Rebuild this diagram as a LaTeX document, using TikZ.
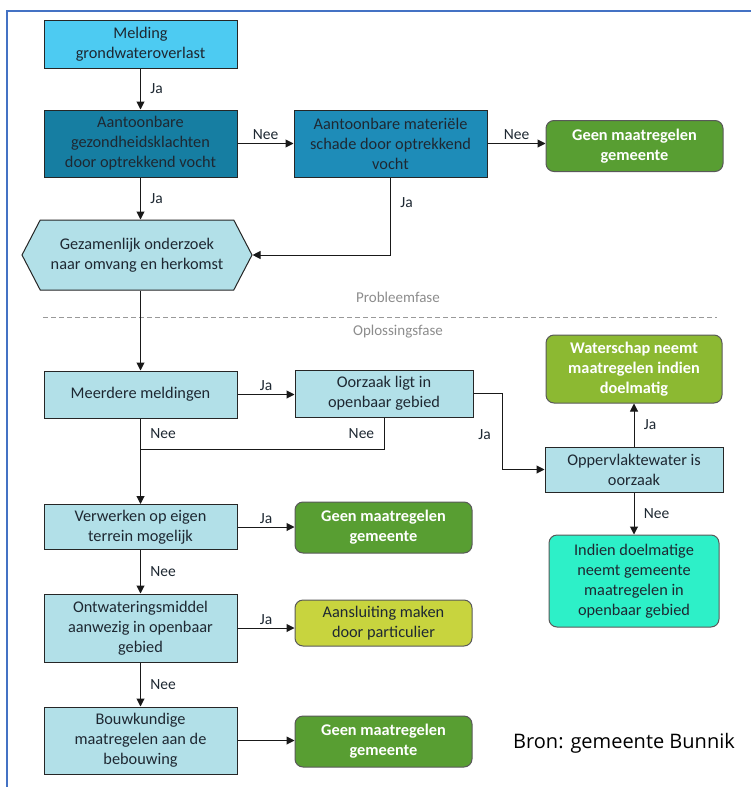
\documentclass[tikz,border=0pt]{standalone}
\usepackage{fontspec}
\setmainfont{Carlito}
\newfontfamily\bronfont{Open Sans}
\usetikzlibrary{arrows.meta,shapes.symbols}

\definecolor{melding}{RGB}{77,203,242}
\definecolor{donker}{RGB}{22,126,162}
\definecolor{middel}{RGB}{30,140,184}
\definecolor{licht}{RGB}{178,224,232}
\definecolor{groen}{RGB}{88,158,50}
\definecolor{loofgroen}{RGB}{140,185,50}
\definecolor{geelgroen}{RGB}{200,212,62}
\definecolor{turkoois}{RGB}{45,240,200}
\definecolor{kader}{RGB}{68,114,196}
\definecolor{tekst}{RGB}{30,40,50}

\tikzset{
  stap/.style={draw=black!85, line width=1pt, rectangle, align=center, text=tekst,
    font=\fontsize{16.3}{20}\selectfont, inner sep=2pt},
  eind/.style={draw=black!65, line width=1pt, rounded corners=8pt, align=center,
    font=\bfseries\fontsize{16.3}{20}\selectfont, text=white},
  pijl/.style={draw=black!90, line width=1pt, -{Triangle[length=8pt,width=8pt]}},
  lijn/.style={draw=black!90, line width=1pt},
  keuze/.style={font=\fontsize{15.5}{17}\selectfont, text=tekst},
  fase/.style={font=\fontsize{15}{17}\selectfont, text=black!45},
}

\begin{document}
\begin{tikzpicture}[x=1pt, y=-1pt]
\useasboundingbox (0,0) rectangle (751,787);

% Kader
\draw[kader, line width=2pt] (7,790) -- (7,11) -- (755,11);

% Probleemfase
\node[stap, fill=melding, minimum width=193, minimum height=48] (melding) at (140.5,44) {Melding\\grondwateroverlast};
\node[stap, fill=donker, minimum width=193, minimum height=67] (gezond) at (140.5,143.5) {Aantoonbare\\gezondheidsklachten\\door optrekkend vocht};
\node[stap, fill=middel, minimum width=193, minimum height=67] (materieel) at (390.5,143.5) {Aantoonbare materiële\\schade door optrekkend\\vocht};
\node[eind, fill=groen, minimum width=177, minimum height=51] (geeneen) at (634.5,146) {Geen maatregelen\\gemeente};
\node[stap, shape=signal, signal to=west and east, signal pointer angle=125, fill=licht,
  minimum width=230, minimum height=70] (onderzoek) at (137,255) {Gezamenlijk onderzoek\\naar omvang en herkomst};

% Scheiding tussen de fasen
\node[fase] (probleem) at (398,297) {Probleemfase};
\draw[black!40, line width=0.8pt, dash pattern=on 5pt off 3pt] (43,317) -- (717,317);
\node[fase] (oplossing) at (398,332) {Oplossingsfase};

% Oplossingsfase
\node[stap, fill=licht, minimum width=193, minimum height=47] (meerdere) at (140.5,394.5) {Meerdere meldingen};
\node[stap, fill=licht, minimum width=178, minimum height=47] (oorzaak) at (384,393.5) {Oorzaak ligt in\\openbaar gebied};
\node[eind, fill=loofgroen, minimum width=176, minimum height=68] (waterschap) at (634,369) {Waterschap neemt\\maatregelen indien\\doelmatig};
\node[stap, fill=licht, minimum width=178, minimum height=45] (opperv) at (634,469.5) {Oppervlaktewater is\\oorzaak};
\node[eind, fill=turkoois, text=tekst, font=\fontsize{16.3}{20}\selectfont, minimum width=170, minimum height=92] (indien) at (634,581) {Indien doelmatige\\neemt gemeente\\maatregelen in\\openbaar gebied};
\node[stap, fill=licht, minimum width=193, minimum height=45] (verwerken) at (140.5,527) {Verwerken op eigen\\terrein mogelijk};
\node[eind, fill=groen, minimum width=177, minimum height=51] (geentwee) at (383.5,527.5) {Geen maatregelen\\gemeente};
\node[stap, fill=licht, minimum width=193, minimum height=68] (ontwatering) at (140.5,628) {Ontwateringsmiddel\\aanwezig in openbaar\\gebied};
\node[eind, fill=geelgroen, text=tekst, font=\fontsize{16.3}{20}\selectfont, minimum width=177, minimum height=46] (aansluiting) at (383.5,623) {Aansluiting maken\\door particulier};
\node[stap, fill=licht, minimum width=193, minimum height=67] (bouwkundig) at (140.5,740.5) {Bouwkundige\\maatregelen aan de\\bebouwing};
\node[eind, fill=groen, minimum width=177, minimum height=51] (geendrie) at (383.5,741.5) {Geen maatregelen\\gemeente};
\coordinate (samen) at (140.5,449);

% Bron
\node[font=\bronfont\fontsize{20}{24}\selectfont] (bron) at (624,743) {Bron: gemeente Bunnik};

% Pijlen
\draw[pijl] (melding) -- node[keuze, right=6pt] {Ja} (gezond);
\draw[pijl] (gezond) -- node[keuze, above] {Nee} (materieel);
\draw[pijl] (materieel.east) -- node[keuze, above] {Nee} (materieel.east -| geeneen.west);
\draw[pijl] (gezond) -- node[keuze, right=6pt] {Ja} (gezond |- onderzoek.north);
\draw[pijl] (materieel.south) |- node[keuze, right=6pt, pos=0.16] {Ja} (onderzoek.east);
\draw[pijl] (meerdere |- onderzoek.south) -- (meerdere);
\draw[pijl] (meerdere.east) -- node[keuze, above] {Ja} (meerdere.east -| oorzaak.west);
\draw[lijn] (oorzaak.south) |- node[keuze, left=6pt, pos=0.25] {Nee} (samen);
\draw[pijl] (meerdere) -- node[keuze, right=6pt, pos=0.18] {Nee} (verwerken);
\draw[pijl] (oorzaak.east) -- ++(29,0) |- node[keuze, left=8pt, pos=0.27] {Ja} (opperv.west);
\draw[pijl] (opperv) -- node[keuze, right=6pt] {Ja} (waterschap);
\draw[pijl] (opperv) -- node[keuze, right=6pt] {Nee} (indien);
\draw[pijl] (verwerken.east) -- node[keuze, above] {Ja} (verwerken.east -| geentwee.west);
\draw[pijl] (verwerken) -- node[keuze, right=6pt] {Nee} (ontwatering);
\draw[pijl] (ontwatering.east) -- node[keuze, above] {Ja} (ontwatering.east -| aansluiting.west);
\draw[pijl] (ontwatering) -- node[keuze, right=6pt] {Nee} (bouwkundig);
\draw[pijl] (bouwkundig.east) -- (bouwkundig.east -| geendrie.west);
\end{tikzpicture}
\end{document}
